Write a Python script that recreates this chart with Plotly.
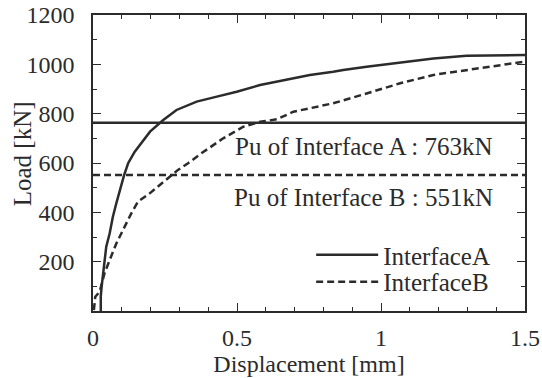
import plotly.graph_objects as go

# Interface A (solid)
disp_a = [0.027, 0.027, 0.030, 0.035, 0.046, 0.058, 0.069, 0.081, 0.093, 0.108, 0.122, 0.145,
          0.198, 0.244, 0.290, 0.360, 0.430, 0.499, 0.580, 0.661, 0.719, 0.753, 0.834, 0.869,
          0.950, 1.066, 1.182, 1.297, 1.413, 1.500]
load_a = [0, 60, 99, 153, 261, 315, 382, 437, 490, 551, 599, 646,
          727, 774, 815, 849, 869, 889, 916, 936, 950, 957, 970, 977,
          990, 1008, 1024, 1035, 1038, 1038]

# Interface B (dashed)
disp_b = [0.003, 0.008, 0.023, 0.040, 0.058, 0.081, 0.110, 0.133, 0.156, 0.197, 0.232, 0.260,
          0.295, 0.330, 0.376, 0.452, 0.522, 0.580, 0.638, 0.696, 0.777, 0.834, 0.950,
          1.066, 1.182, 1.297, 1.413, 1.500]
load_b = [4, 58, 78, 153, 207, 274, 342, 396, 443, 477, 511, 538,
          572, 599, 639, 700, 747, 767, 777, 808, 828, 842, 882,
          923, 957, 977, 997, 1011]

pu_a = 763
pu_b = 551
x_tick_vals = [0, 0.5, 1, 1.5]
x_tick_text = ["0", "0.5", "1", "1.5"]
y_tick_vals = [200, 400, 600, 800, 1000, 1200]
label_a = "Pu of Interface A : 763kN"
label_b = "Pu of Interface B : 551kN"

ink = "#2b2b2b"
fam = "Liberation Serif, Times New Roman, serif"
font = dict(family=fam, size=25, color=ink)
tick_font = dict(family=fam, size=24, color=ink)
xtitle_font = dict(family=fam, size=24, color=ink)

fig = go.Figure()
fig.add_trace(go.Scatter(x=disp_a, y=load_a, mode="lines", name="InterfaceA",
                         line=dict(color=ink, width=2.5), legend="legend"))
fig.add_trace(go.Scatter(x=disp_b, y=load_b, mode="lines", name="InterfaceB",
                         line=dict(color=ink, width=2.5, dash="7px,4px"), legend="legend2"))

fig.add_hline(y=pu_a, line=dict(color=ink, width=2.5))
fig.add_hline(y=pu_b, line=dict(color=ink, width=2.5, dash="7px,4px"))

fig.add_annotation(x=1.396, y=665, text=label_a, showarrow=False, xanchor="right",
                   yanchor="middle", font=font)
fig.add_annotation(x=1.396, y=462, text=label_b, showarrow=False, xanchor="right",
                   yanchor="middle", font=font)
# y-axis title
fig.add_annotation(xref="paper", yref="paper", x=-0.164, y=0.53, text="Load [kN]",
                   textangle=-90, showarrow=False, xanchor="center", yanchor="middle",
                   font=font)

axis_common = dict(showline=True, linecolor=ink, linewidth=1.5, mirror="allticks",
                   ticks="inside", tickcolor=ink, tickwidth=1.2, ticklen=8,
                   showgrid=False, zeroline=False, tickfont=tick_font, automargin=False,
                   ticklabeloverflow="allow")

fig.update_xaxes(range=[0, 1.5], tickvals=x_tick_vals, ticktext=x_tick_text,
                 minor=dict(dtick=0.1, tick0=0, ticks="inside", ticklen=4,
                            tickcolor=ink, tickwidth=1.2, showgrid=False),
                 title=dict(text="Displacement [mm]", font=xtitle_font, standoff=2),
                 ticklabelstandoff=4,
                 **axis_common)
fig.update_yaxes(range=[0, 1200], tickvals=y_tick_vals,
                 minor=dict(dtick=100, tick0=0, ticks="inside", ticklen=4,
                            tickcolor=ink, tickwidth=1.2, showgrid=False),
                 ticklabelstandoff=12,
                 **axis_common)

leg_common = dict(x=0.505, xanchor="left", yanchor="middle", bgcolor="rgba(0,0,0,0)",
                  font=font, itemwidth=62)
fig.update_layout(
    width=542, height=378,
    margin=dict(l=93, r=17, t=15, b=67),
    paper_bgcolor="white", plot_bgcolor="white",
    font=font,
    showlegend=True,
    legend=dict(y=0.189, **leg_common),
    legend2=dict(y=0.098, **leg_common),
)

fig.write_html("out.html", config={"displayModeBar": False},
               post_script="document.body.style.margin='0';document.body.style.padding='0';")
